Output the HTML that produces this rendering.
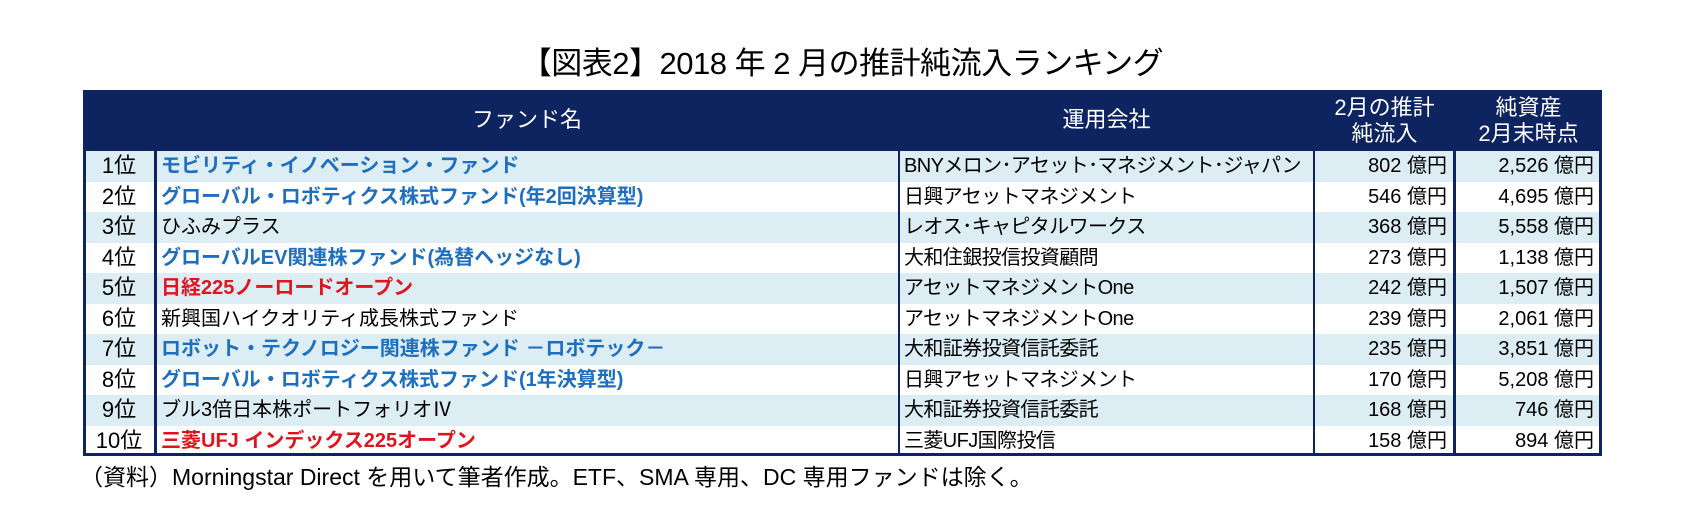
<!DOCTYPE html>
<html><head><meta charset="utf-8">
<style>
body{margin:0;width:1697px;height:513px;background:#fff;position:relative;overflow:hidden;font-family:"Liberation Sans","Noto Sans CJK JP",sans-serif;}
.abs{position:absolute;}
#title{left:0;width:1684px;top:44px;text-align:center;font-size:31px;color:#000;line-height:40px;letter-spacing:-0.5px;}
#tbl{left:83px;top:90px;width:1519px;height:366px;}
.hdr{position:absolute;left:0;top:0;width:1519px;height:61px;background:#0d2461;}
.h{position:absolute;color:#fff;font-size:22px;text-align:center;line-height:26px;}
.row{position:absolute;left:0;width:1519px;height:30.5px;}
.cell{position:absolute;top:0;height:30.5px;line-height:30.5px;font-size:20px;white-space:nowrap;color:#000;}
.vl{position:absolute;background:#0d2461;}
.blue{color:#1f6fbf;font-weight:bold;}
.red{color:#e0141e;font-weight:bold;}
#note{left:80px;top:462px;font-size:23px;line-height:30px;color:#000;white-space:nowrap;}
</style></head><body>
<div id="title" class="abs">【図表2】2018 年 2 月の推計純流入ランキング</div>
<div id="tbl" class="abs">
  <div class="hdr">
    <div class="h" style="left:72px;width:744px;top:17px;">ファンド名</div>
    <div class="h" style="left:816px;width:415px;top:17px;">運用会社</div>
    <div class="h" style="left:1231px;width:141px;top:5px;">2月の推計<br>純流入</div>
    <div class="h" style="left:1372px;width:147px;top:5px;">純資産<br>2月末時点</div>
  </div>
  <div id="rows"></div>
  <div class="vl" style="left:0;top:0;width:3px;height:366px;"></div>
  <div class="vl" style="right:0;top:0;width:3px;height:366px;"></div>
  <div class="vl" style="left:0;bottom:0;width:1519px;height:3px;"></div>
  <div class="vl" style="left:71px;top:61px;width:3px;height:305px;"></div>
  <div class="vl" style="left:815px;top:61px;width:2px;height:305px;"></div>
  <div class="vl" style="left:1230px;top:61px;width:2px;height:305px;"></div>
  <div class="vl" style="left:1370px;top:61px;width:3px;height:305px;"></div>
</div>
<div id="note" class="abs">（資料）Morningstar Direct を用いて筆者作成。ETF、SMA 専用、DC 専用ファンドは除く。</div>
<script>
const ranks=["1位","2位","3位","4位","5位","6位","7位","8位","9位","10位"];
const funds=["モビリティ・イノベーション・ファンド","グローバル・ロボティクス株式ファンド(年2回決算型)","ひふみプラス","グローバルEV関連株ファンド(為替ヘッジなし)","日経225ノーロードオープン","新興国ハイクオリティ成長株式ファンド","ロボット・テクノロジー関連株ファンド －ロボテック－","グローバル・ロボティクス株式ファンド(1年決算型)","ブル3倍日本株ポートフォリオⅣ","三菱UFJ インデックス225オープン"];
const styles=["blue","blue","","blue","red","","blue","blue","","red"];
const companies=["BNYメロン･アセット･マネジメント･ジャパン","日興アセットマネジメント","レオス･キャピタルワークス","大和住銀投信投資顧問","アセットマネジメントOne","アセットマネジメントOne","大和証券投資信託委託","日興アセットマネジメント","大和証券投資信託委託","三菱UFJ国際投信"];
const inflows=[802,546,368,273,242,239,235,170,168,158];
const assets=[2526,4695,5558,1138,1507,2061,3851,5208,746,894];
const rowsEl=document.getElementById('rows');
for(let i=0;i<ranks.length;i++){
  const r=document.createElement('div');
  r.className='row';
  r.style.top=(61+i*30.5)+'px';
  r.style.background=i%2===0?'#dcedf4':'#fff';
  
  
  const c1=document.createElement('div');c1.className='cell';c1.style.left='0';c1.style.width='72px';c1.style.textAlign='center';c1.style.fontSize='22px';c1.textContent=ranks[i];
  
  
  const c2=document.createElement('div');c2.className='cell '+styles[i];c2.style.left='78px';c2.textContent=funds[i];
  
  
  const c3=document.createElement('div');c3.className='cell';c3.style.left='821px';c3.style.letterSpacing='-0.6px';c3.textContent=companies[i];
  
  
  const c4=document.createElement('div');c4.className='cell';c4.style.left='1232px';c4.style.width='132px';c4.style.textAlign='right';c4.textContent=inflows[i].toLocaleString('en-US')+' 億円';
  
  
  const c5=document.createElement('div');c5.className='cell';c5.style.left='1373px';c5.style.width='138px';c5.style.textAlign='right';c5.textContent=assets[i].toLocaleString('en-US')+' 億円';
  
  
  r.append(c1,c2,c3,c4,c5);
  rowsEl.appendChild(r);
}
</script>
</body></html>
